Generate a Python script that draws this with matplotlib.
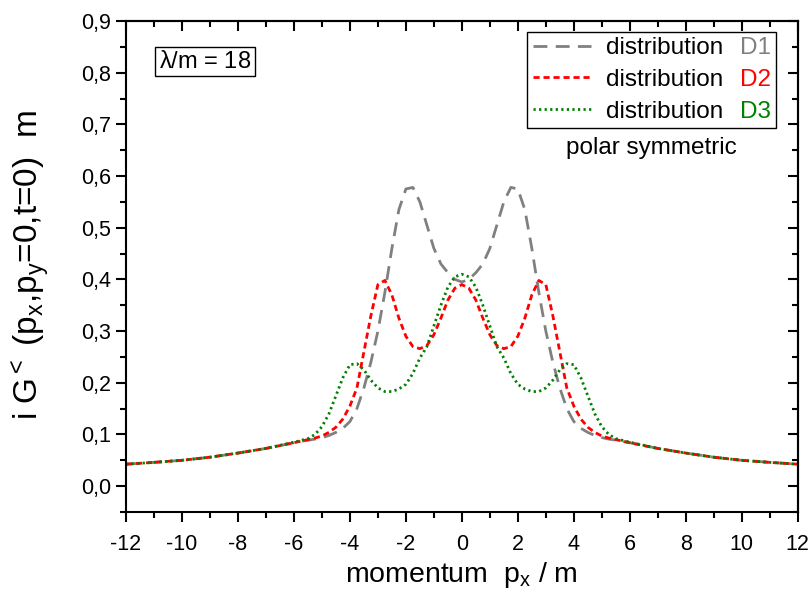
import numpy as np
import matplotlib.pyplot as plt
from matplotlib.lines import Line2D
from matplotlib.ticker import MultipleLocator, FuncFormatter

plt.rcParams['font.family'] = ['Liberation Sans', 'DejaVu Sans']
plt.rcParams['mathtext.fontset'] = 'custom'
plt.rcParams['mathtext.rm'] = 'Liberation Sans'
plt.rcParams['mathtext.it'] = 'Liberation Sans'

# datos (mitad positiva, la curva es simetrica)
px_half = [0, 0.25, 0.5, 0.75, 1.0, 1.25, 1.5, 1.75, 2.0, 2.25, 2.5, 2.75, 3.0,
           3.25, 3.5, 3.75, 4.0, 4.25, 4.5, 4.75, 5.0, 5.25, 5.5, 6, 7, 8, 9, 10, 11, 12]
d1_half = [0.395, 0.400, 0.413, 0.430, 0.460, 0.505, 0.550, 0.578, 0.575, 0.535, 0.460,
           0.375, 0.300, 0.240, 0.190, 0.150, 0.125, 0.112, 0.104, 0.098, 0.094, 0.091,
           0.089, 0.084, 0.073, 0.064, 0.056, 0.050, 0.046, 0.0425]
d2_half = [0.390, 0.383, 0.360, 0.325, 0.293, 0.272, 0.266, 0.270, 0.290, 0.325, 0.370,
           0.398, 0.390, 0.330, 0.260, 0.190, 0.155, 0.130, 0.114, 0.104, 0.097, 0.093,
           0.090, 0.084, 0.073, 0.064, 0.056, 0.050, 0.046, 0.0425]
d3_half = [0.410, 0.405, 0.385, 0.350, 0.310, 0.270, 0.248, 0.218, 0.197, 0.188, 0.183,
           0.183, 0.190, 0.205, 0.225, 0.237, 0.235, 0.210, 0.175, 0.140, 0.115, 0.100,
           0.092, 0.085, 0.073, 0.064, 0.056, 0.050, 0.046, 0.0425]

etiquetas = ['D1', 'D2', 'D3']
colores = ['#808080', '#ff0000', '#008000']

def espejo(v):
    v = np.array(v)
    return np.concatenate([v[:0:-1], v])

px = np.concatenate([-np.array(px_half)[:0:-1], px_half])

fig = plt.figure(figsize=(8.11, 6.0), dpi=100)
ax = fig.add_axes([0.1554, 0.1467, 0.8282, 0.8183])

l1, = ax.plot(px, espejo(d1_half), color=colores[0], lw=2.0, linestyle=(0, (5, 3)))
l2, = ax.plot(px, espejo(d2_half), color=colores[1], lw=2.0, linestyle=(0, (2.2, 1.4)))
l3, = ax.plot(px, espejo(d3_half), color=colores[2], lw=2.0, linestyle=(0, (0.8, 1.2)))

ax.set_xlim(-12, 12)
ax.set_ylim(-0.05, 0.9)
ax.xaxis.set_major_locator(MultipleLocator(2))
ax.xaxis.set_minor_locator(MultipleLocator(1))
ax.yaxis.set_major_locator(MultipleLocator(0.1))
ax.yaxis.set_minor_locator(MultipleLocator(0.05))
ax.yaxis.set_major_formatter(FuncFormatter(lambda v, p: f'{v:.1f}'.replace('.', ',')))
ax.xaxis.set_major_formatter(FuncFormatter(lambda v, p: f'{v:.0f}'))

ax.tick_params(which='both', direction='out', top=False, right=False, labelsize=15.5, width=1.5)
ax.tick_params(axis='x', which='major', pad=8)
ax.tick_params(axis='y', which='major', pad=3)
ax.tick_params(which='major', length=7.5)
ax.tick_params(which='minor', length=4)
# ticks interiores arriba y a la derecha
sec_x = ax.secondary_xaxis('top')
sec_x.xaxis.set_major_locator(MultipleLocator(2))
sec_x.xaxis.set_minor_locator(MultipleLocator(1))
sec_x.tick_params(which='both', direction='in', labeltop=False, width=1.5)
sec_x.tick_params(which='major', length=7.5)
sec_x.tick_params(which='minor', length=4)
sec_y = ax.secondary_yaxis('right')
sec_y.yaxis.set_major_locator(MultipleLocator(0.1))
sec_y.yaxis.set_minor_locator(MultipleLocator(0.05))
sec_y.tick_params(which='both', direction='in', labelright=False, width=1.5)
sec_y.tick_params(which='major', length=7.5)
sec_y.tick_params(which='minor', length=4)
for s in ax.spines.values():
    s.set_linewidth(1.5)
sec_x.spines['top'].set_linewidth(1.5)
sec_y.spines['right'].set_linewidth(1.5)

ax.set_xlabel(r'momentum  p$_\mathrm{x}$ / m', fontsize=20.5)
ax.set_ylabel(r'i G$^\mathrm{<}$ (p$_\mathrm{x}$,p$_\mathrm{y}$=0,t=0)  m', fontsize=24)
ax.xaxis.label.set_va('center')
ax.yaxis.label.set_va('center')
ax.xaxis.set_label_coords(0.5, -0.128)
ax.yaxis.set_label_coords(-0.143, 0.503)

# leyenda: columna 1 con lineas, columna 2 con D1..D3 en color
vacio = [Line2D([], [], linestyle='none') for _ in etiquetas]
hlen, hpad = 2.4, 0.6
leg = ax.legend([l1, l2, l3] + vacio, ['distribution'] * 3 + etiquetas, ncol=2,
                labelcolor=['black'] * 3 + colores,
                loc='upper right', bbox_to_anchor=(0.968, 0.978), fontsize=17.5, frameon=True,
                fancybox=False, edgecolor='black', handlelength=hlen, borderpad=0.22,
                labelspacing=0.4, handletextpad=hpad, borderaxespad=0, framealpha=1,
                columnspacing=-(hlen + hpad) + 0.7)
leg.get_frame().set_linewidth(1.0)

ax.text(0.782, 0.741, 'polar symmetric', transform=ax.transAxes, fontsize=17.5,
        ha='center', va='center')
ax.text(0.049, 0.9175, r'$\lambda$/m = 18', transform=ax.transAxes, fontsize=17,
        ha='left', va='center',
        bbox=dict(boxstyle='square,pad=0.15', facecolor='white', edgecolor='black', lw=1.0))

plt.savefig('out.png', dpi=100)
